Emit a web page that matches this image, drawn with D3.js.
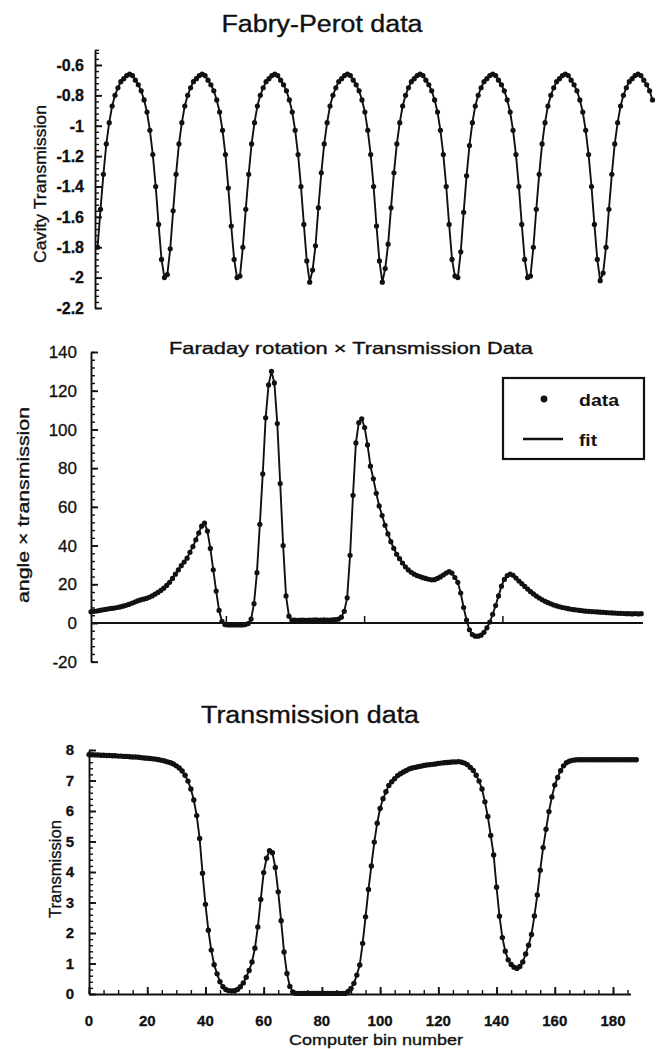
<!DOCTYPE html>
<html><head><meta charset="utf-8">
<script src="https://cdn.jsdelivr.net/npm/d3@7/dist/d3.min.js"></script>
<style>
html,body{margin:0;padding:0;background:#fff;}
svg{display:block;}
text{font-family:"Liberation Sans",Arial,Helvetica,sans-serif;fill:#111;}
</style></head><body>
<svg id="c" width="657" height="1049"></svg>
<script>
// ---------------- DATA ----------------
// Panel 1: Fabry-Perot cavity transmission, one value per computer bin (0..191)
const fabryPerot = [
-1.80,-1.55,-1.32,-1.12,-0.98,-0.87,-0.80,-0.75,-0.71,-0.69,-0.67,-0.66,-0.67,-0.70,-0.73,-0.77,-0.83,-0.91,-1.03,-1.19,-1.40,-1.65,-1.88,-2.00,-1.98,
-1.81,-1.56,-1.32,-1.12,-0.98,-0.87,-0.80,-0.75,-0.71,-0.69,-0.67,-0.66,-0.67,-0.70,-0.73,-0.77,-0.83,-0.91,-1.03,-1.19,-1.41,-1.66,-1.88,-2.00,-1.99,
-1.80,-1.55,-1.32,-1.12,-0.98,-0.87,-0.80,-0.75,-0.71,-0.69,-0.67,-0.66,-0.67,-0.70,-0.73,-0.77,-0.83,-0.91,-1.03,-1.19,-1.40,-1.65,-1.89,-2.03,-1.95,
-1.79,-1.54,-1.31,-1.12,-0.98,-0.87,-0.80,-0.75,-0.71,-0.69,-0.67,-0.66,-0.67,-0.70,-0.73,-0.77,-0.83,-0.91,-1.03,-1.19,-1.40,-1.66,-1.89,-2.03,-1.94,
-1.78,-1.54,-1.31,-1.12,-0.98,-0.87,-0.80,-0.75,-0.71,-0.69,-0.67,-0.66,-0.67,-0.70,-0.73,-0.77,-0.83,-0.91,-1.03,-1.19,-1.40,-1.65,-1.88,-1.99,-2.00,
-1.83,-1.57,-1.33,-1.13,-0.98,-0.87,-0.80,-0.75,-0.71,-0.69,-0.67,-0.66,-0.67,-0.70,-0.73,-0.77,-0.83,-0.91,-1.03,-1.19,-1.40,-1.65,-1.88,-2.00,-1.99,
-1.80,-1.55,-1.32,-1.12,-0.98,-0.87,-0.80,-0.75,-0.71,-0.69,-0.67,-0.66,-0.67,-0.70,-0.73,-0.77,-0.83,-0.91,-1.03,-1.19,-1.40,-1.65,-1.88,-2.02,-1.97,
-1.80,-1.55,-1.32,-1.12,-0.98,-0.87,-0.80,-0.75,-0.71,-0.69,-0.67,-0.66,-0.67,-0.70,-0.73,-0.77,-0.83
];

// Panel 2: Faraday rotation x transmission, bins 0..189
const faraday = [
5.8,6.0,6.2,6.5,6.8,7.0,7.3,7.5,7.7,8.0,
8.3,8.7,9.1,9.6,10.2,10.8,11.4,11.9,12.3,12.7,
13.3,14.0,14.9,15.8,16.8,18.0,19.4,21.0,23.0,25.2,
27.4,29.6,31.5,33.5,36.5,39.5,43.0,46.5,50.0,51.6,
47.5,38.5,27.5,16.5,6.5,0.8,-0.8,-1.0,-1.0,-1.0,
-1.0,-1.0,-1.0,-0.8,-0.3,2.0,10.0,26.0,51.0,77.0,
106.0,123.0,130.0,124.0,103.0,72.0,40.0,14.0,3.5,1.5,
1.5,1.4,1.5,1.5,1.4,1.5,1.5,1.6,1.5,1.5,
1.6,1.5,1.5,1.6,1.7,2.0,3.0,6.0,13.0,35.0,
66.0,93.0,103.5,105.5,101.0,92.0,81.0,74.5,67.0,60.5,
55.5,50.5,46.0,42.0,38.6,35.5,33.2,31.0,29.0,27.4,
26.2,25.2,24.5,24.0,23.4,23.0,22.6,22.3,22.4,23.0,
23.8,24.8,25.8,26.5,25.8,23.5,21.0,15.5,8.0,1.5,
-3.5,-6.0,-6.8,-6.8,-6.3,-4.8,-2.5,0.5,4.5,9.0,
14.0,19.0,22.5,24.5,25.2,24.6,23.2,21.7,20.3,18.9,
17.5,16.2,15.0,13.9,12.9,12.0,11.2,10.5,9.9,9.3,
8.8,8.4,8.0,7.7,7.4,7.1,6.9,6.7,6.5,6.3,
6.1,6.0,5.9,5.8,5.7,5.6,5.5,5.4,5.3,5.2,
5.1,5.0,5.0,4.9,4.8,4.8,4.7,4.9,4.7,4.8
];

// Panel 3: Transmission, bins 0..188
const transmission = [
7.85,7.85,7.84,7.84,7.83,7.83,7.82,7.82,7.81,7.81,
7.80,7.80,7.79,7.79,7.78,7.77,7.77,7.76,7.75,7.74,
7.73,7.72,7.71,7.70,7.68,7.66,7.64,7.61,7.58,7.54,
7.48,7.41,7.31,7.17,6.98,6.72,6.36,5.85,5.10,3.96,
2.94,2.09,1.44,0.96,0.66,0.40,0.24,0.15,0.11,0.10,
0.11,0.15,0.24,0.36,0.55,0.77,1.05,1.50,2.20,3.10,
3.98,4.45,4.70,4.63,4.15,3.35,2.40,1.38,0.67,0.25,
0.07,0.02,0.02,0.02,0.02,0.02,0.02,0.02,0.02,0.02,
0.02,0.02,0.02,0.02,0.02,0.02,0.02,0.02,0.02,0.08,
0.18,0.35,0.62,0.95,1.66,2.53,3.43,4.20,4.98,5.60,
6.08,6.40,6.63,6.84,6.96,7.06,7.16,7.22,7.28,7.33,
7.38,7.41,7.43,7.45,7.47,7.49,7.51,7.52,7.53,7.54,
7.56,7.57,7.58,7.59,7.60,7.61,7.61,7.62,7.60,7.57,
7.52,7.43,7.33,7.17,6.98,6.72,6.30,5.82,5.20,4.56,
3.50,2.55,1.85,1.40,1.12,0.97,0.88,0.84,0.90,1.05,
1.31,1.60,1.95,2.56,3.25,4.06,4.80,5.40,5.98,6.46,
6.85,7.10,7.32,7.48,7.58,7.63,7.66,7.67,7.68,7.68,
7.68,7.68,7.68,7.68,7.68,7.68,7.68,7.68,7.68,7.68,
7.68,7.68,7.68,7.68,7.68,7.68,7.68,7.68,7.68
];

// Tick values and labels
const fpTicks      = [-2.2,-2,-1.8,-1.6,-1.4,-1.2,-1,-0.8,-0.6];
const fpTickLabels = ["-2.2","-2","-1.8","-1.6","-1.4","-1.2","-1","-0.8","-0.6"];
const frTicks      = [-20,0,20,40,60,80,100,120,140];
const frTickLabels = ["-20","0","20","40","60","80","100","120","140"];
const frBinTicks   = [46.5,94,141.5];
const trTicks      = [0,1,2,3,4,5,6,7,8];
const trTickLabels = ["0","1","2","3","4","5","6","7","8"];
const binTicks     = [0,20,40,60,80,100,120,140,160,180];
const binTickLabels= ["0","20","40","60","80","100","120","140","160","180"];

const titles = ["Fabry-Perot data","Faraday rotation \u00d7 Transmission Data","Transmission data"];
const yLabels = ["Cavity Transmission","angle \u00d7 transmission","Transmission"];
const xLabel = "Computer bin number";
const legendLabels = ["data","fit"];

// ---------------- DRAWING ----------------
const INK = "#111";
const svg = d3.select("#c");
svg.append("rect").attr("width",657).attr("height",1049).attr("fill","#fff");

function styleAxis(g, w){
  g.selectAll("line,path").attr("stroke",INK).attr("stroke-width",w||1.7);
  g.selectAll("text").remove();
}
function yAxis(scale, x, major, minor, majLen, minLen){
  const gMin = svg.append("g").attr("transform",`translate(${x},0)`)
    .call(d3.axisLeft(scale).tickValues(minor).tickSize(-minLen).tickSizeOuter(0).tickFormat(""));
  gMin.select(".domain").remove(); styleAxis(gMin,1.4);
  const gMaj = svg.append("g").attr("transform",`translate(${x},0)`)
    .call(d3.axisLeft(scale).tickValues(major).tickSize(-majLen).tickSizeOuter(0).tickFormat(""));
  styleAxis(gMaj,1.9);
}
function yTickLabels(scale, xRight, vals, labels, size, weight){
  svg.append("g").selectAll("text").data(vals).join("text")
    .attr("x",xRight).attr("y",d=>scale(d)).attr("dy","0.36em")
    .attr("text-anchor","end").attr("font-size",size).attr("font-weight",weight)
    .attr("stroke",INK).attr("stroke-width",0.3)
    .text((d,i)=>labels[i]);
}
function label(txt, x, y, size, len, rot, weight){
  return svg.append("text").attr("font-size",size).attr("text-anchor","middle")
    .attr("font-weight",weight||"normal")
    .attr("stroke",INK).attr("stroke-width",0.35)
    .attr("transform",`translate(${x},${y})${rot?" rotate(-90)":""}`)
    .attr("textLength",len).attr("lengthAdjust","spacingAndGlyphs").text(txt);
}
function series(data, x, y, r){
  const g = svg.append("g");
  g.append("path").datum(data)
    .attr("d", d3.line().x((d,i)=>x(i)).y(d=>y(d)))
    .attr("fill","none").attr("stroke",INK).attr("stroke-width",1.9).attr("stroke-linejoin","round");
  g.selectAll("circle").data(data).join("circle")
    .attr("cx",(d,i)=>x(i)).attr("cy",d=>y(d)).attr("r",r).attr("fill",INK);
}

// ===== Panel 1 =====
const xTop = d3.scaleLinear().domain([0,191]).range([97.6,652.5]);
const yTop = d3.scaleLinear().domain([-2.2,-0.5]).range([308,49.8]);
yAxis(yTop, 95, fpTicks, d3.range(-2.2,-0.51,0.04).concat([-0.5]), 7, 4);
yTickLabels(yTop, 84, fpTicks, fpTickLabels, 16, "bold");
series(fabryPerot, xTop, yTop, 2.6);
label(titles[0], 322, 32, 23, 201, false);
label(yLabels[0], 45.5, 184, 17, 158, true);

// ===== Panel 2 =====
const xMid = d3.scaleLinear().domain([0,189]).range([91, 91+189*2.911]);
const yMid = d3.scaleLinear().domain([-20,140]).range([661.7,352]);
yAxis(yMid, 91, frTicks, d3.range(-20,140.1,4), 7, 4);
yTickLabels(yMid, 77, frTicks, frTickLabels, 17, "normal");
svg.append("line").attr("x1",xMid(0)).attr("x2",xMid(189.6))
  .attr("y1",yMid(0)).attr("y2",yMid(0)).attr("stroke",INK).attr("stroke-width",2);
svg.append("g").selectAll("line").data(frBinTicks).join("line")
  .attr("x1",d=>xMid(d)).attr("x2",d=>xMid(d))
  .attr("y1",yMid(0)).attr("y2",yMid(0)-7).attr("stroke",INK).attr("stroke-width",1.5);
series(faraday, xMid, yMid, 2.6);
label(titles[1], 351, 354, 16.5, 364, false);
label(yLabels[1], 28.5, 505, 17, 196, true);
// legend
const lg = svg.append("g");
lg.append("rect").attr("x",503).attr("y",378).attr("width",141).attr("height",81)
  .attr("fill","#fff").attr("stroke",INK).attr("stroke-width",2.2);
lg.append("circle").attr("cx",544).attr("cy",399).attr("r",3.4).attr("fill",INK);
lg.append("text").attr("x",579).attr("y",406).attr("font-size",16).attr("font-weight","bold")
  .attr("textLength",40).attr("lengthAdjust","spacingAndGlyphs").text(legendLabels[0]);
lg.append("line").attr("x1",523).attr("x2",563).attr("y1",439).attr("y2",439)
  .attr("stroke",INK).attr("stroke-width",2.6);
lg.append("text").attr("x",579).attr("y",446).attr("font-size",16).attr("font-weight","bold")
  .attr("textLength",18).attr("lengthAdjust","spacingAndGlyphs").text(legendLabels[1]);

// ===== Panel 3 =====
const xBot = d3.scaleLinear().domain([0,180]).range([89,613]);
const yBot = d3.scaleLinear().domain([0,8]).range([994,750]);
yAxis(yBot, 89, trTicks, d3.range(0,8.01,0.2), 7, 4);
yTickLabels(yBot, 74, trTicks, trTickLabels, 15, "bold");
const xAx = xBot.copy().domain([0,186]).range([xBot(0), xBot(186)]);
const gxMin = svg.append("g").attr("transform",`translate(0,${yBot(0)})`)
  .call(d3.axisBottom(xAx).tickValues(d3.range(0,186,5)).tickSize(-4).tickSizeOuter(0).tickFormat(""));
gxMin.select(".domain").remove(); styleAxis(gxMin,1.4);
const gxMaj = svg.append("g").attr("transform",`translate(0,${yBot(0)})`)
  .call(d3.axisBottom(xAx).tickValues(binTicks).tickSize(-7).tickSizeOuter(0).tickFormat(""));
styleAxis(gxMaj,1.9);
svg.append("g").selectAll("text").data(binTicks).join("text")
  .attr("x",d=>xBot(d)).attr("y",1026).attr("text-anchor","middle")
  .attr("font-size",15).attr("font-weight","bold").attr("stroke",INK).attr("stroke-width",0.3)
  .text((d,i)=>binTickLabels[i]);
series(transmission, xBot, yBot, 2.7);
label(titles[2], 310, 723, 23, 218, false);
label(yLabels[2], 61, 869, 16, 98, true);
label(xLabel, 376, 1045, 15, 174, false);
</script>
</body></html>
